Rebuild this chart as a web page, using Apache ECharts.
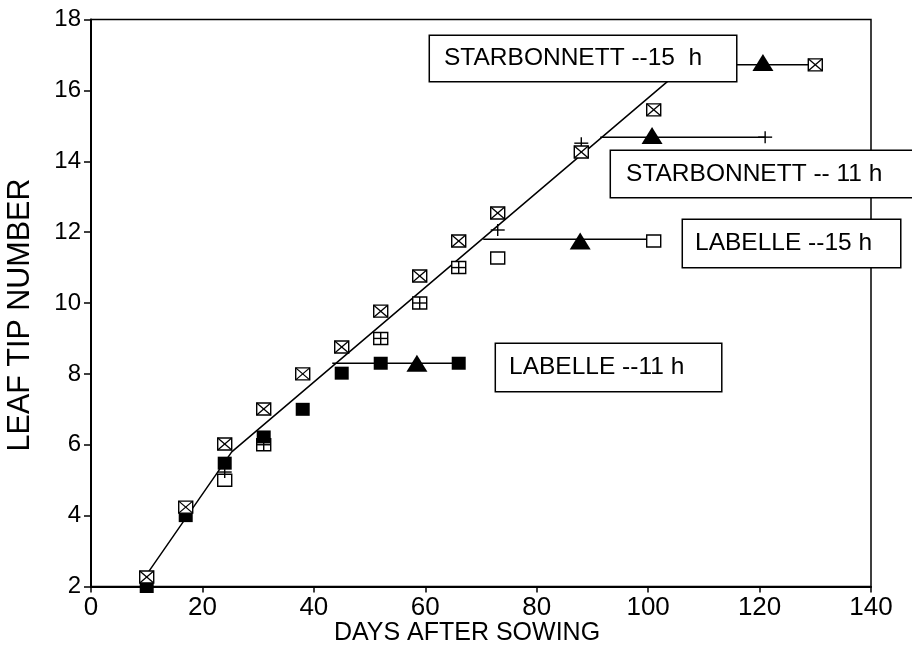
<!DOCTYPE html>
<html>
<head>
<meta charset="utf-8">
<script src="https://cdn.jsdelivr.net/npm/echarts@6/dist/echarts.min.js"></script>
<style>html,body{margin:0;padding:0;background:#fff;}#chart{width:912px;height:647px;}</style>
</head>
<body>
<div id="chart"></div>
<script>
// ---- data ----
const xTicks = [0, 20, 40, 60, 80, 100, 120, 140];
const yTicks = [2, 4, 6, 8, 10, 12, 14, 16, 18];

// Starbonnett 15 h  (box with X)
const starb15Days   = [10, 17, 24, 31, 38, 45, 52, 59, 66, 73, 88, 101, 130];
const starb15Leaves = [2.27, 4.24, 6.02, 7.01, 8.0, 8.76, 9.77, 10.76, 11.75, 12.54, 14.26, 15.45, 16.72];
// Labelle 11 h  (filled square)
const labelle11Days   = [10, 17, 24, 31, 38, 45, 52, 66];
const labelle11Leaves = [2.0, 4.0, 5.48, 6.22, 7.0, 8.02, 8.3, 8.3];
// Labelle 15 h  (open square)
const labelle15Days   = [24, 31, 52, 59, 66, 73, 101];
const labelle15Leaves = [5.0, 6.0, 9.0, 10.0, 11.0, 11.27, 11.75];
// Starbonnett 11 h  (plus)
const starb11Days   = [24, 31, 52, 59, 66, 73, 88, 121];
const starb11Leaves = [5.23, 6.0, 9.0, 10.0, 11.0, 12.06, 14.51, 14.68];
// final leaf number (triangles)
const finalDays   = [58.5, 87.8, 100.7, 120.6];
const finalLeaves = [8.27, 11.72, 14.7, 16.76];
// fitted line (two segments)
const fitDays   = [9.7, 25.26, 107.3];
const fitLeaves = [2.27, 5.8, 16.76];
// plateau lines
const plateauStart = [43.3, 70.4, 91.4, 107.3];
const plateauEnd   = [66, 101, 121, 130];
const plateauLevel = [8.3, 11.8, 14.68, 16.72];
// text boxes
const boxTexts  = ['STARBONNETT --15  h', 'STARBONNETT -- 11 h', 'LABELLE --15 h', 'LABELLE --11 h'];
const boxDays   = [60.85, 93.34, 106.26, 72.70];
const boxLeaves = [16.90, 13.64, 11.68, 8.18];

// ---- chart ----
const FONT = '"Liberation Sans", Arial, Helvetica, sans-serif';
const boxWidths = [306, 301, 217, 225];
const boxPadL   = [14, 15, 12, 13];
const boxHeights = [45, 46, 47, 47];

function zip(a, b) { return a.map((v, i) => [v, b[i]]); }

function renderBoxX(params, api) {
  const p = api.coord([api.value(0), api.value(1)]);
  const w = 14, h = 12;
  const st = { stroke: '#000', lineWidth: 1.3 };
  return { type: 'group', children: [
    { type: 'rect', shape: { x: p[0] - w / 2, y: p[1] - h / 2, width: w, height: h }, style: { fill: '#fff', stroke: '#000', lineWidth: 1.4 } },
    { type: 'line', shape: { x1: p[0] - w / 2, y1: p[1] - h / 2, x2: p[0] + w / 2, y2: p[1] + h / 2 }, style: st },
    { type: 'line', shape: { x1: p[0] - w / 2, y1: p[1] + h / 2, x2: p[0] + w / 2, y2: p[1] - h / 2 }, style: st }
  ]};
}
function renderOpen(params, api) {
  const p = api.coord([api.value(0), api.value(1)]);
  const w = 14, h = 12;
  return { type: 'rect', shape: { x: p[0] - w / 2, y: p[1] - h / 2, width: w, height: h }, style: { fill: '#fff', stroke: '#000', lineWidth: 1.4 } };
}
function renderPlus(params, api) {
  const p = api.coord([api.value(0), api.value(1)]);
  const w = 14, h = 12;
  const st = { stroke: '#000', lineWidth: 1.4 };
  return { type: 'group', children: [
    { type: 'line', shape: { x1: p[0] - w / 2, y1: p[1], x2: p[0] + w / 2, y2: p[1] }, style: st },
    { type: 'line', shape: { x1: p[0], y1: p[1] - h / 2, x2: p[0], y2: p[1] + h / 2 }, style: st }
  ]};
}
function renderFilled(params, api) {
  const p = api.coord([api.value(0), api.value(1)]);
  const w = 14, h = 13;
  return { type: 'rect', shape: { x: p[0] - w / 2, y: p[1] - h / 2, width: w, height: h }, style: { fill: '#000' } };
}
function renderTri(params, api) {
  const p = api.coord([api.value(0), api.value(1)]);
  const w = 21, h = 17;
  return { type: 'polygon', shape: { points: [[p[0], p[1] - h / 2 - 1], [p[0] + w / 2, p[1] + h / 2 - 1], [p[0] - w / 2, p[1] + h / 2 - 1]] }, style: { fill: '#000' } };
}

const lineStyle = { color: '#000', width: 1.5 };
const series = [];
series.push({ type: 'line', data: zip(fitDays, fitLeaves), symbol: 'none', lineStyle: lineStyle, z: 2, silent: true });
plateauStart.forEach((s, i) => {
  series.push({ type: 'line', data: [[s, plateauLevel[i]], [plateauEnd[i], plateauLevel[i]]], symbol: 'none', lineStyle: lineStyle, z: 2, silent: true });
});
series.push({ type: 'custom', renderItem: renderOpen, data: zip(labelle15Days, labelle15Leaves), z: 3 });
series.push({ type: 'custom', renderItem: renderPlus, data: zip(starb11Days, starb11Leaves), z: 4 });
series.push({ type: 'custom', renderItem: renderFilled, data: zip(labelle11Days, labelle11Leaves), z: 5 });
series.push({ type: 'custom', renderItem: renderBoxX, data: zip(starb15Days, starb15Leaves), z: 6 });
series.push({ type: 'custom', renderItem: renderTri, data: zip(finalDays, finalLeaves), z: 7 });
series.push({
  type: 'scatter', symbolSize: 0, z: 20, silent: true,
  itemStyle: { opacity: 1 },
  data: boxTexts.map((t, i) => ({
    value: [boxDays[i], boxLeaves[i]],
    label: {
      show: true, position: 'right', distance: 0, opacity: 1,
      formatter: t,
      width: boxWidths[i] - boxPadL[i],
      lineHeight: 27,
      padding: [(boxHeights[i] - 27) / 2, 0, (boxHeights[i] - 27) / 2, boxPadL[i]],
      backgroundColor: '#fff', borderColor: '#000', borderWidth: 1.5,
      color: '#000', fontSize: 24.5, fontFamily: FONT, align: 'left'
    }
  }))
});

const chart = echarts.init(document.getElementById('chart'), null, { renderer: 'canvas' });
chart.setOption({
  animation: false,
  backgroundColor: '#fff',
  grid: { left: 91, right: 41, top: 19.5, bottom: 60.5, containLabel: false, outerBoundsMode: 'none', show: true, borderColor: '#000', borderWidth: 1.5, backgroundColor: 'transparent' },
  xAxis: {
    type: 'value', min: xTicks[0], max: xTicks[xTicks.length - 1], interval: 20,
    axisLine: { lineStyle: { color: '#000', width: 2 } },
    axisTick: { length: 6, lineStyle: { color: '#000', width: 1.5 } },
    axisLabel: { color: '#000', fontSize: 26, margin: 8, fontFamily: FONT },
    splitLine: { show: false },
    name: 'DAYS AFTER SOWING', nameLocation: 'middle', nameGap: 34, nameMoveOverlap: false,
    nameTextStyle: { color: '#000', fontSize: 25, fontFamily: FONT, padding: [0, 28, 0, 0] }
  },
  yAxis: {
    type: 'value', min: yTicks[0], max: yTicks[yTicks.length - 1], interval: 2,
    axisLine: { lineStyle: { color: '#000', width: 2 } },
    axisTick: { length: 7, lineStyle: { color: '#000', width: 1.5 } },
    axisLabel: { color: '#000', fontSize: 24, margin: 10, fontFamily: FONT },
    splitLine: { show: false },
    name: 'LEAF TIP NUMBER', nameLocation: 'middle', nameGap: 55, nameMoveOverlap: false,
    nameTextStyle: { color: '#000', fontSize: 30.5, fontFamily: FONT, padding: [0, 24, 0, 0] }
  },
  series: series
});
</script>
</body>
</html>
